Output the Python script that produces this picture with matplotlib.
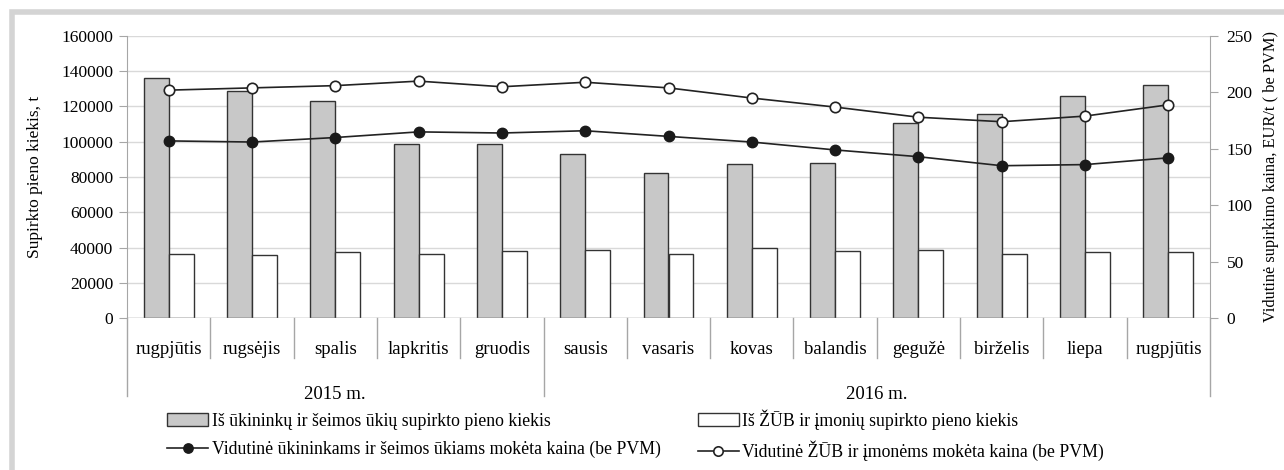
import numpy as np
import matplotlib.pyplot as plt
from matplotlib.patches import Rectangle
from matplotlib.lines import Line2D
import matplotlib.transforms as mtransforms

plt.rcParams['font.family'] = ['Liberation Serif', 'DejaVu Serif']
plt.rcParams['font.size'] = 12.5

menesiai = ["rugpjūtis", "rugsėjis", "spalis", "lapkritis", "gruodis", "sausis",
            "vasaris", "kovas", "balandis", "gegužė", "birželis", "liepa", "rugpjūtis"]
metai = ["2015 m.", "2016 m."]
metu_ribos = [(0, 5), (5, 13)]

ukininku_kiekis = [136000, 129000, 123000, 99000, 99000, 93000, 82000,
                   87500, 88000, 110500, 116000, 126000, 132000]
zub_kiekis = [36500, 35700, 37200, 36500, 38000, 38800, 36500,
              39500, 38000, 38800, 36500, 37200, 37200]
ukininku_kaina = [157, 156, 160, 165, 164, 166, 161, 156, 149, 143, 135, 136, 142]
zub_kaina = [202, 204, 206, 210, 205, 209, 204, 195, 187, 178, 174, 179, 189]

x = np.arange(len(menesiai))
w = 0.3
grid_c = "#d9d9d9"
axis_c = "#a6a6a6"

fig = plt.figure(figsize=(12.84, 4.70), dpi=100)
ax = fig.add_axes([127/1284, 1 - 318/470, (1210-127)/1284, 282/470])

ax.bar(x - w/2, ukininku_kiekis, w, color="#c8c8c8", edgecolor="#333333", linewidth=1,
       label="Iš ūkininkų ir šeimos ūkių supirkto pieno kiekis", zorder=2)
ax.bar(x + w/2, zub_kiekis, w, color="white", edgecolor="#333333", linewidth=1,
       label="Iš ŽŪB ir įmonių supirkto pieno kiekis", zorder=2)

ax.set_xlim(-0.5, 12.5)
ax.set_ylim(0, 160000)
ax.set_yticks(np.arange(0, 160001, 20000))
ax.yaxis.grid(True, color=grid_c, linewidth=1)
ax.set_axisbelow(True)
ax.set_xticks([])
for s in ["top", "right", "bottom"]:
    ax.spines[s].set_visible(False)
ax.spines["left"].set_color(axis_c)
ax.axhline(0, color=axis_c, linewidth=1, zorder=3)
ax.tick_params(axis="y", colors=axis_c, labelcolor="black", labelsize=12.5, length=6, pad=4)
ax.set_ylabel("Supirkto pieno kiekis, t", fontsize=12.5)
ax.yaxis.set_label_coords(-0.078, 0.5)

ax2 = ax.twinx()
ax2.plot(x, ukininku_kaina, color="#222222", linewidth=1.2, marker="o", markersize=7.5,
         markerfacecolor="#1a1a1a", markeredgecolor="#1a1a1a",
         label="Vidutinė ūkininkams ir šeimos ūkiams mokėta kaina (be PVM)")
ax2.plot(x, zub_kaina, color="#222222", linewidth=1.2, marker="o", markersize=7.5,
         markerfacecolor="white", markeredgecolor="#222222", markeredgewidth=1.2,
         label="Vidutinė ŽŪB ir įmonėms mokėta kaina (be PVM)")
ax2.set_ylim(0, 250)
ax2.set_yticks(np.arange(0, 251, 50))
for s in ["top", "left", "bottom"]:
    ax2.spines[s].set_visible(False)
ax2.spines["right"].set_color(axis_c)
ax2.tick_params(axis="y", colors=axis_c, labelcolor="black", labelsize=12.5, length=6, pad=6)
ax2.set_ylabel("Vidutinė supirkimo kaina, EUR/t ( be PVM)", fontsize=11.8)
ax2.yaxis.set_label_coords(1.049, 0.5)

# kategoriju asis dviem lygiais
tr = mtransforms.blended_transform_factory(ax.transData, ax.transAxes)
for i, m in enumerate(menesiai):
    ax.text(i, -0.113, m, transform=tr, ha="center", va="center", fontsize=13.5)
ilgos = [-0.5] + [b[1] - 0.5 for b in metu_ribos]
for b in np.arange(-0.5, 13, 1):
    low = -0.277 if b in ilgos else -0.142
    ax.add_line(Line2D([b, b], [0, low], transform=tr, color=axis_c,
                       linewidth=1, clip_on=False))
for name, (a, b) in zip(metai, metu_ribos):
    ax.text((a + b - 1) / 2, -0.272, name, transform=tr, ha="center", va="center", fontsize=13.5)

# legenda
h1, l1 = ax.get_legend_handles_labels()
h2, l2 = ax2.get_legend_handles_labels()
handles = [h1[0], h2[0], h1[1], h2[1]]
labels = [l1[0], l2[0], l1[1], l2[1]]
fig.legend(handles, labels, ncol=2, loc="upper left", bbox_to_anchor=(160/1284, 1 - 402/470),
           frameon=False, fontsize=12.8, handlelength=2.3, handletextpad=0.2,
           columnspacing=2.1, labelspacing=0.62, borderaxespad=0, markerscale=0.9)

# remelis
fig.patches.append(Rectangle((12/1284, -0.05), 1.1, 1 - 12/470 + 0.05, transform=fig.transFigure,
                             fill=False, edgecolor="#d4d4d4", linewidth=4))

fig.savefig("out.png", dpi=100)
